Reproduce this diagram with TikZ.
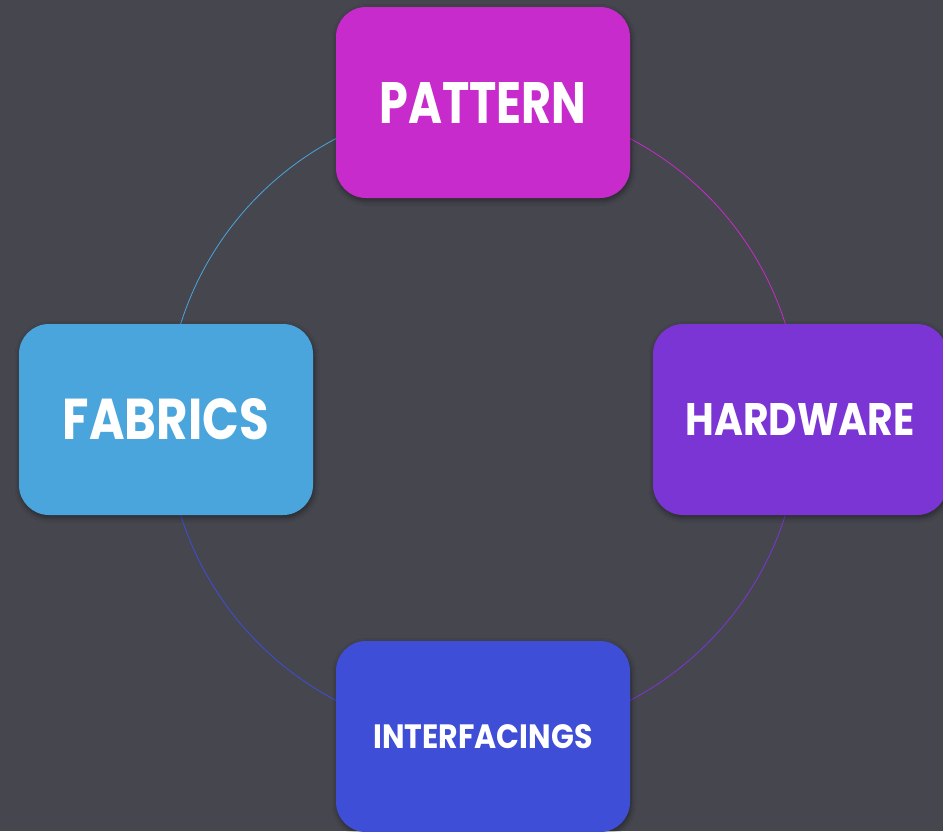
\documentclass[tikz,border=0pt]{standalone}
\usepackage{fontspec}
\setmainfont{Poppins}
\usetikzlibrary{shadows.blur}
\definecolor{bgdark}{HTML}{46464F}
\definecolor{cpattern}{HTML}{C72BCB}
\definecolor{cfabrics}{HTML}{4AA5DD}
\definecolor{chardware}{HTML}{7B35D4}
\definecolor{cinterf}{HTML}{3F4ED7}
% label set to a given width and cap height
\newcommand{\itemlabel}[3]{\resizebox{#1pt}{#2pt}{\bfseries #3}}
\tikzset{
  itembox/.style={rectangle, rounded corners=30pt, minimum width=294pt,
    minimum height=191pt, inner sep=0pt, text=white,
    blur shadow={shadow xshift=1pt, shadow yshift=-2.5pt, shadow blur steps=8,
      shadow blur radius=5pt, shadow opacity=45}},
  ring/.style={line width=0.8pt}
}
\begin{document}
\begin{tikzpicture}[x=1pt, y=1pt]
  \fill[bgdark] (0,0) rectangle (943,-831);
  \useasboundingbox (0,0) rectangle (943,-831);
  % positions of the four items around the ring
  \coordinate (ctr) at (483,-419.5);
  \coordinate (pPat) at (483,-102.5);
  \coordinate (pFab) at (166,-419.5);
  \coordinate (pHw)  at (800,-419.5);
  \coordinate (pInt) at (483,-736.5);
  % ring segments, each in the colour of the item it leaves clockwise
  \draw[ring, cfabrics]  (pFab) arc[start angle=180, end angle=90,  radius=317];
  \draw[ring, cpattern]  (pPat) arc[start angle=90,  end angle=0,   radius=317];
  \draw[ring, chardware] (pHw)  arc[start angle=0,   end angle=-90, radius=317];
  \draw[ring, cinterf]   (pInt) arc[start angle=-90, end angle=-180,radius=317];
  % items
  \node[itembox, fill=cpattern]  (pattern)  at (pPat) {\itemlabel{207}{41}{PATTERN}};
  \node[itembox, fill=cfabrics]  (fabrics)  at (pFab) {\itemlabel{206}{41}{FABRICS}};
  \node[itembox, fill=chardware] (hardware) at (pHw)  {\itemlabel{229}{32}{HARDWARE}};
  \node[itembox, fill=cinterf]   (interf)   at (pInt) {\itemlabel{219}{24}{INTERFACINGS}};
\end{tikzpicture}
\end{document}
